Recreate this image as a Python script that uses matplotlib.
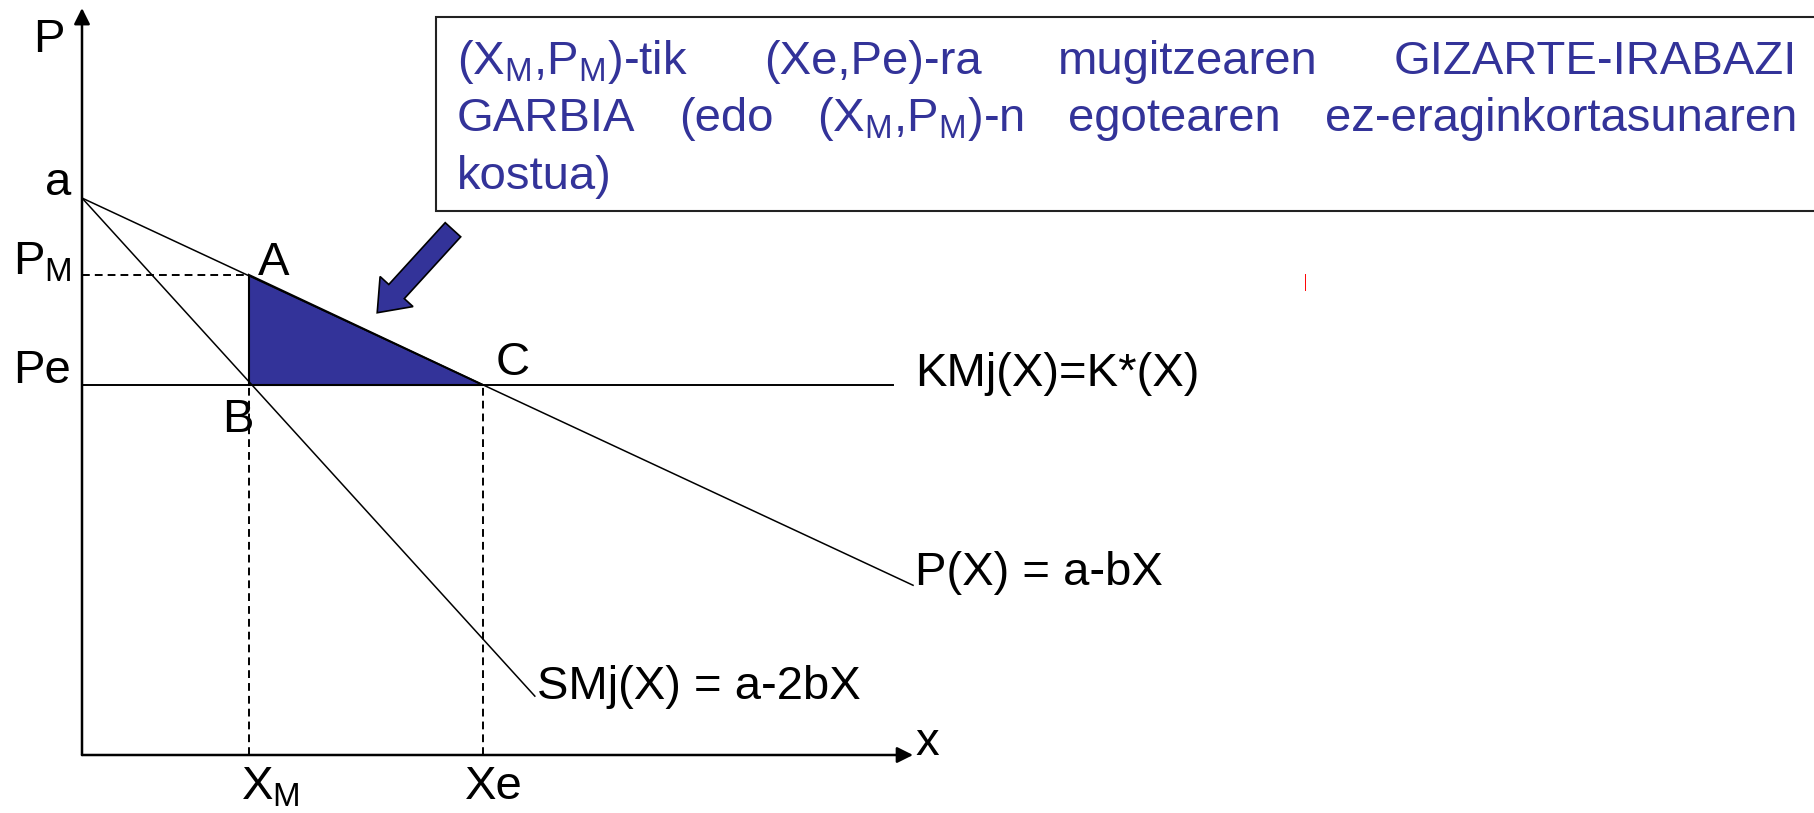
import numpy as np
import matplotlib.pyplot as plt
from matplotlib.patches import Polygon, Rectangle, FancyArrow

plt.rcParams['font.family'] = ['Liberation Sans', 'DejaVu Sans']
plt.rcParams['mathtext.fontset'] = 'custom'
plt.rcParams['mathtext.rm'] = 'Liberation Sans'
plt.rcParams['mathtext.it'] = 'Liberation Sans:italic'

# values (price on P axis, quantity on x axis)
a = 10.0            # intercept of both curves
b = 0.466           # slope of demand P(X) = a - bX
smj_slope = 1.10    # slope of SMj(X) = a - 2bX as drawn
pe = 6.64           # competitive price / marginal cost
pm = 8.62           # monopoly price
xm = 3.0            # monopoly quantity
xe = 7.2            # efficient quantity
demand_end = 14.92
smj_end = 8.13
cost_end = 14.56
x_axis_end = 14.92
p_axis_end = 13.41

box_lines = [
    [r'(X$_\mathrm{M}$,P$_\mathrm{M}$)-tik', '(Xe,Pe)-ra', 'mugitzearen', 'GIZARTE-IRABAZI'],
    ['GARBIA', '(edo', r'(X$_\mathrm{M}$,P$_\mathrm{M}$)-n', 'egotearen', 'ez-eraginkortasunaren'],
    ['kostua)'],
]

navy = '#333399'
fs = 34

fig = plt.figure(figsize=(18.15, 8.13), dpi=100)
ax = fig.add_axes([0, 0, 1, 1])
unit = 55.7  # pixels per unit
ax.set_xlim(-82 / unit, (1815 - 82) / unit)
ax.set_ylim(-(813 - 755) / unit, 755 / unit)
ax.set_axis_off()

# welfare loss triangle ABC
tri = Polygon([(xm, pm), (xm, pe), (xe, pe)], closed=True, facecolor=navy,
              edgecolor='black', lw=1.5, zorder=2)
ax.add_patch(tri)

# curves
xs = np.array([0, demand_end])
ax.plot(xs, a - b * xs, color='black', lw=1.1, zorder=3)
xs2 = np.array([0, smj_end])
ax.plot(xs2, a - smj_slope * xs2, color='black', lw=1.1, zorder=3)
ax.plot([0, cost_end], [pe, pe], color='black', lw=1.4, zorder=3)

# dashed guides
dash = (0, (4, 2.6))
ax.plot([0, xm], [pm, pm], color='black', lw=1.4, ls=dash)
ax.plot([xm, xm], [0, pe], color='black', lw=1.4, ls=dash)
ax.plot([xe, xe], [0, pe], color='black', lw=1.4, ls=dash)

# axes with arrow heads
for tip in [(0, p_axis_end), (x_axis_end, 0)]:
    ax.annotate('', xy=tip, xytext=(0, 0),
                arrowprops=dict(arrowstyle='-|>', lw=1.8, color='black',
                                mutation_scale=24, shrinkA=0, shrinkB=0))

# labels
ax.text(-0.88, 12.62, 'P', fontsize=fs, va='baseline')
ax.text(-0.2, a + 0.05, 'a', fontsize=fs, ha='right', va='baseline')
ax.text(-1.24, pm, r'P$_\mathrm{M}$', fontsize=fs, va='baseline')
ax.text(-1.24, pe + 0.04, 'Pe', fontsize=fs, va='baseline')
ax.text(xm + 0.16, pm, 'A', fontsize=fs, va='baseline')
ax.text(xm - 0.48, pe - 0.84, 'B', fontsize=fs, va='baseline')
ax.text(xe + 0.22, pe + 0.18, 'C', fontsize=fs, va='baseline')
ax.text(cost_end + 0.39, pe - 0.02, 'KMj(X)=K*(X)', fontsize=fs, va='baseline')
ax.text(demand_end + 0.04, a - b * demand_end, 'P(X) = a-bX', fontsize=fs, va='baseline')
ax.text(smj_end + 0.04, a - smj_slope * smj_end - 0.05, 'SMj(X) = a-2bX', fontsize=fs, va='baseline')
ax.text(x_axis_end + 0.04, 0, 'x', fontsize=fs, va='baseline')
ax.text(xm - 0.14, -0.79, r'X$_\mathrm{M}$', fontsize=fs, va='baseline')
ax.text(xe - 0.32, -0.79, 'Xe', fontsize=fs, va='baseline')

# explanation box
ax.add_patch(Rectangle((6.36, 9.77), 26.0, 3.48, facecolor='white',
                       edgecolor='#222222', lw=1.5, zorder=4))

fig.canvas.draw()
renderer = fig.canvas.get_renderer()
inv = ax.transData.inverted()
left, right = 6.73, 30.79
baselines = [12.23, 11.20, 10.16]
for words, y in zip(box_lines, baselines):
    texts = [ax.text(left, y, w, fontsize=fs, color=navy, va='baseline', zorder=5)
             for w in words]
    widths = []
    for t in texts:
        bb = t.get_window_extent(renderer)
        widths.append(inv.transform((bb.x1, 0))[0] - inv.transform((bb.x0, 0))[0])
    if len(words) > 1:
        gap = (right - left - sum(widths)) / (len(words) - 1)
        pos = left
        for t, w in zip(texts, widths):
            t.set_x(pos)
            pos += w + gap

# arrow pointing at the triangle
ax.add_patch(FancyArrow(6.66, 9.43, -1.36, -1.49, width=0.377, head_width=0.80,
                        head_length=0.515, length_includes_head=True,
                        facecolor=navy, edgecolor='black', lw=1.2, zorder=5))

# small red mark
ax.plot([21.96, 21.96], [8.35, 8.64], color='red', lw=0.7)

fig.savefig('out.png', dpi=100)
